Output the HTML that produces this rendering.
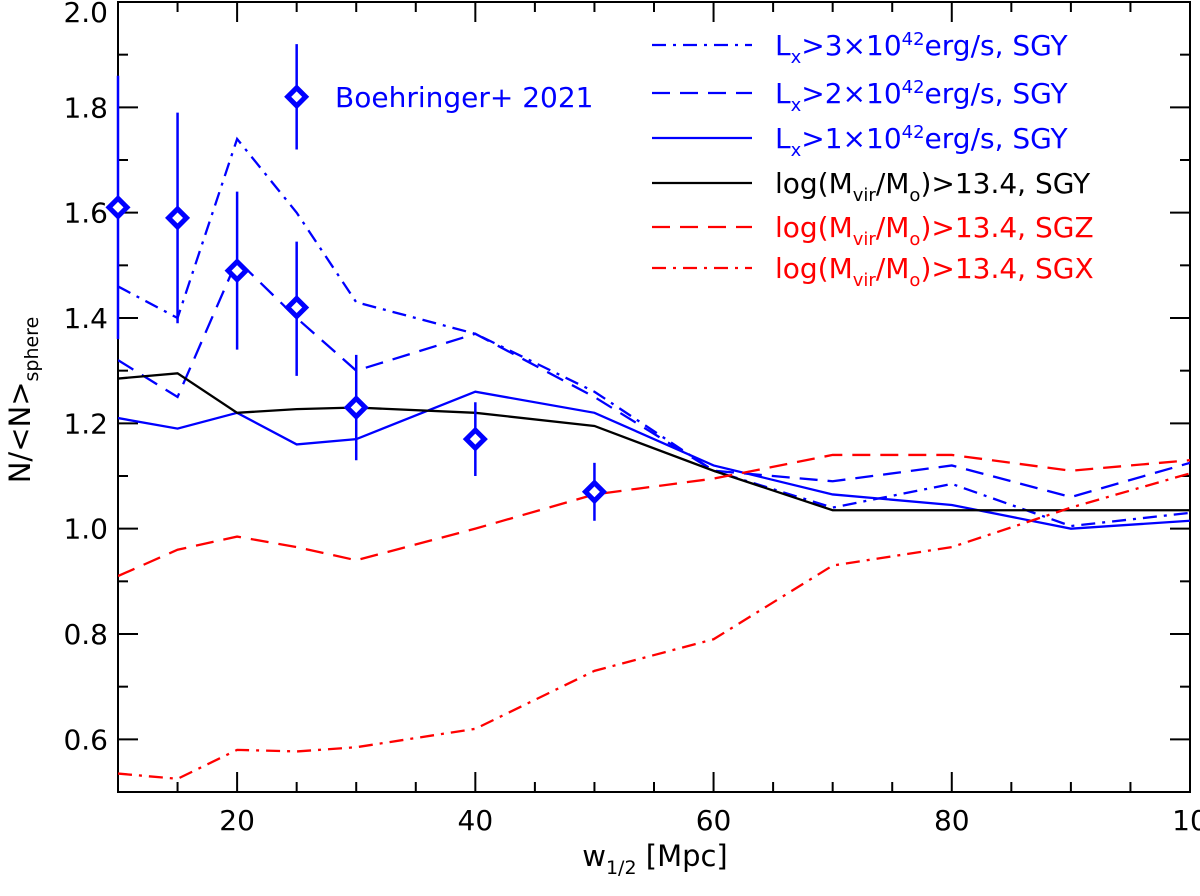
<!DOCTYPE html>
<html><head><meta charset="utf-8">
<style>
html,body{margin:0;padding:0;background:#fff;}
svg{display:block;font-family:"DejaVu Sans","Liberation Sans",sans-serif;}
</style></head>
<body>
<svg id="chart" width="1200" height="896" viewBox="0 0 1200 896">
<g id="grid"></g>
<g id="series"></g>
<g id="points"></g>
<g id="legend"></g>
</svg>
<script>
const xCats = [10,15,20,25,30,40,50,60,70,80,90,100];
const lx3 = [1.46,1.40,1.74,1.60,1.43,1.37,1.26,1.11,1.04,1.085,1.005,1.03];
const lx2 = [1.32,1.25,1.51,1.40,1.30,1.37,1.25,1.11,1.09,1.12,1.06,1.125];
const lx1 = [1.21,1.19,1.22,1.16,1.17,1.26,1.22,1.12,1.065,1.045,1.0,1.015];
const mvirY = [1.285,1.295,1.22,1.227,1.23,1.22,1.195,1.11,1.035,1.035,1.035,1.035];
const mvirZ = [0.91,0.96,0.985,0.965,0.94,1.0,1.065,1.095,1.14,1.14,1.11,1.13];
const mvirX = [0.535,0.525,0.58,0.577,0.585,0.62,0.73,0.79,0.93,0.965,1.04,1.105];
const obsX = [10,15,20,25,25,30,40,50];
const obsY = [1.61,1.59,1.49,1.42,1.82,1.23,1.17,1.07];
const obsLo = [1.36,1.39,1.34,1.29,1.72,1.13,1.10,1.015];
const obsHi = [1.86,1.79,1.64,1.545,1.92,1.33,1.24,1.125];
const xTicks = [20,40,60,80,100];
const xTickLabels = ["20","40","60","80","10"];
const yTicks = [0.6,0.8,1.0,1.2,1.4,1.6,1.8,2.0];
const yTickLabels = ["0.6","0.8","1.0","1.2","1.4","1.6","1.8","2.0"];

const L=118,R=1190,T=2,B=792,X0=10,X1=100,Y0=0.5,Y1=2.0;
const sx=v=>L+(v-X0)/(X1-X0)*(R-L);
const sy=v=>B-(v-Y0)/(Y1-Y0)*(B-T);
const NS="http://www.w3.org/2000/svg";
function mk(tag,attrs,parent){const e=document.createElementNS(NS,tag);for(const k in attrs)e.setAttribute(k,attrs[k]);parent.appendChild(e);return e;}
const grid=document.getElementById('grid'),ser=document.getElementById('series'),pts=document.getElementById('points'),leg=document.getElementById('legend');

const defs=mk('defs',{},grid);const cp=mk('clipPath',{id:'cp'},defs);mk('rect',{x:L,y:T,width:R-L,height:B-T},cp);
ser.setAttribute('clip-path','url(#cp)');

const frame=mk('rect',{x:L,y:T,width:R-L,height:B-T,fill:'none',stroke:'#000','stroke-width':2},grid);



for(let v=10;v<=100;v+=5){
  const major=v%20===0;const len=major?20:10;const x=sx(v);
  mk('line',{x1:x,x2:x,y1:B,y2:B-len,stroke:'#000','stroke-width':2},grid);
  mk('line',{x1:x,x2:x,y1:T,y2:T+len,stroke:'#000','stroke-width':2},grid);
}
xTicks.forEach((v,i)=>{
  const t=mk('text',{x:sx(v),y:830,'font-size':28,'text-anchor':'middle'},grid);
  t.textContent=xTickLabels[i];
  
  
});
for(let k=0;k<=15;k++){
  const v=0.5+k*0.1;const major=Math.abs((v*10)%2)<0.01;const len=major?20:10;const y=sy(v);
  mk('line',{x1:L,x2:L+len,y1:y,y2:y,stroke:'#000','stroke-width':2},grid);
  mk('line',{x1:R,x2:R-len,y1:y,y2:y,stroke:'#000','stroke-width':2},grid);
}
yTicks.forEach((v,i)=>{
  const t=mk('text',{x:108,y:Math.max(sy(v)+10,22),'font-size':28,'text-anchor':'end'},grid);
  t.textContent=yTickLabels[i];
  
  
});
const xt=mk('text',{x:655,y:866,'font-size':29,'text-anchor':'middle'},grid);
xt.innerHTML='w<tspan font-size="19" dy="8">1/2</tspan><tspan dy="-8"> [Mpc]</tspan>';


const yt=mk('text',{transform:'translate(30,400) rotate(-90)','font-size':29,'text-anchor':'middle'},grid);
yt.innerHTML='N/&lt;N&gt;<tspan font-size="19" dy="8">sphere</tspan>';



const DD='14,7,3,7', DS='18,10';
const seriesDefs=[
 {d:lx3,c:'#0000ff',dash:DD,name:'series-lx3'},
 {d:lx2,c:'#0000ff',dash:DS,name:'series-lx2'},
 {d:lx1,c:'#0000ff',dash:'',name:'series-lx1'},
 {d:mvirY,c:'#000',dash:'',name:'series-mvir-sgy'},
 {d:mvirZ,c:'#ff0000',dash:DS,name:'series-mvir-sgz'},
 {d:mvirX,c:'#ff0000',dash:DD,name:'series-mvir-sgx'}];
seriesDefs.forEach(s=>{
  const p=mk('polyline',{points:s.d.map((v,i)=>sx(xCats[i])+','+sy(v)).join(' '),fill:'none',stroke:s.c,'stroke-width':2.3,'stroke-dasharray':s.dash},ser);
  
  
});

obsX.forEach((xv,i)=>{
  const x=sx(xv),y=sy(obsY[i]);
  const g=mk('g',{},pts);
  
  
  mk('line',{x1:x,x2:x,y1:sy(obsLo[i]),y2:sy(obsHi[i]),stroke:'#0000ff','stroke-width':2.5},g);
  mk('polygon',{points:`${x},${y-9} ${x+9},${y} ${x},${y+9} ${x-9},${y}`,fill:'#fff',stroke:'#0000ff','stroke-width':5},g);
});
const bl=mk('text',{x:335,y:sy(1.82)+10,'font-size':28,fill:'#0000ff'},pts);
bl.textContent='Boehringer+ 2021';



const legItems=[
 {c:'#0000ff',dash:DD,html:'L<tspan font-size="18" dy="8">x</tspan><tspan dy="-8">&gt;3×10</tspan><tspan font-size="18" dy="-10">42</tspan><tspan dy="10">erg/s, SGY</tspan>'},
 {c:'#0000ff',dash:DS,html:'L<tspan font-size="18" dy="8">x</tspan><tspan dy="-8">&gt;2×10</tspan><tspan font-size="18" dy="-10">42</tspan><tspan dy="10">erg/s, SGY</tspan>'},
 {c:'#0000ff',dash:'',html:'L<tspan font-size="18" dy="8">x</tspan><tspan dy="-8">&gt;1×10</tspan><tspan font-size="18" dy="-10">42</tspan><tspan dy="10">erg/s, SGY</tspan>'},
 {c:'#000',dash:'',html:'log(M<tspan font-size="18" dy="8">vir</tspan><tspan dy="-8">/M</tspan><tspan font-size="18" dy="8">o</tspan><tspan dy="-8">)&gt;13.4, SGY</tspan>'},
 {c:'#ff0000',dash:DS,html:'log(M<tspan font-size="18" dy="8">vir</tspan><tspan dy="-8">/M</tspan><tspan font-size="18" dy="8">o</tspan><tspan dy="-8">)&gt;13.4, SGZ</tspan>'},
 {c:'#ff0000',dash:DD,html:'log(M<tspan font-size="18" dy="8">vir</tspan><tspan dy="-8">/M</tspan><tspan font-size="18" dy="8">o</tspan><tspan dy="-8">)&gt;13.4, SGX</tspan>'}];
const legY=[45,93,138,183,227,268];
legItems.forEach((it,i)=>{
  const g=mk('g',{},leg);
  
  
  mk('line',{x1:652,x2:752,y1:legY[i],y2:legY[i],stroke:it.c,'stroke-width':2.3,'stroke-dasharray':it.dash},g);
  const t=mk('text',{x:775,y:legY[i]+10,'font-size':28,fill:it.c},g);
  t.innerHTML=it.html;
});
</script>
</body></html>
